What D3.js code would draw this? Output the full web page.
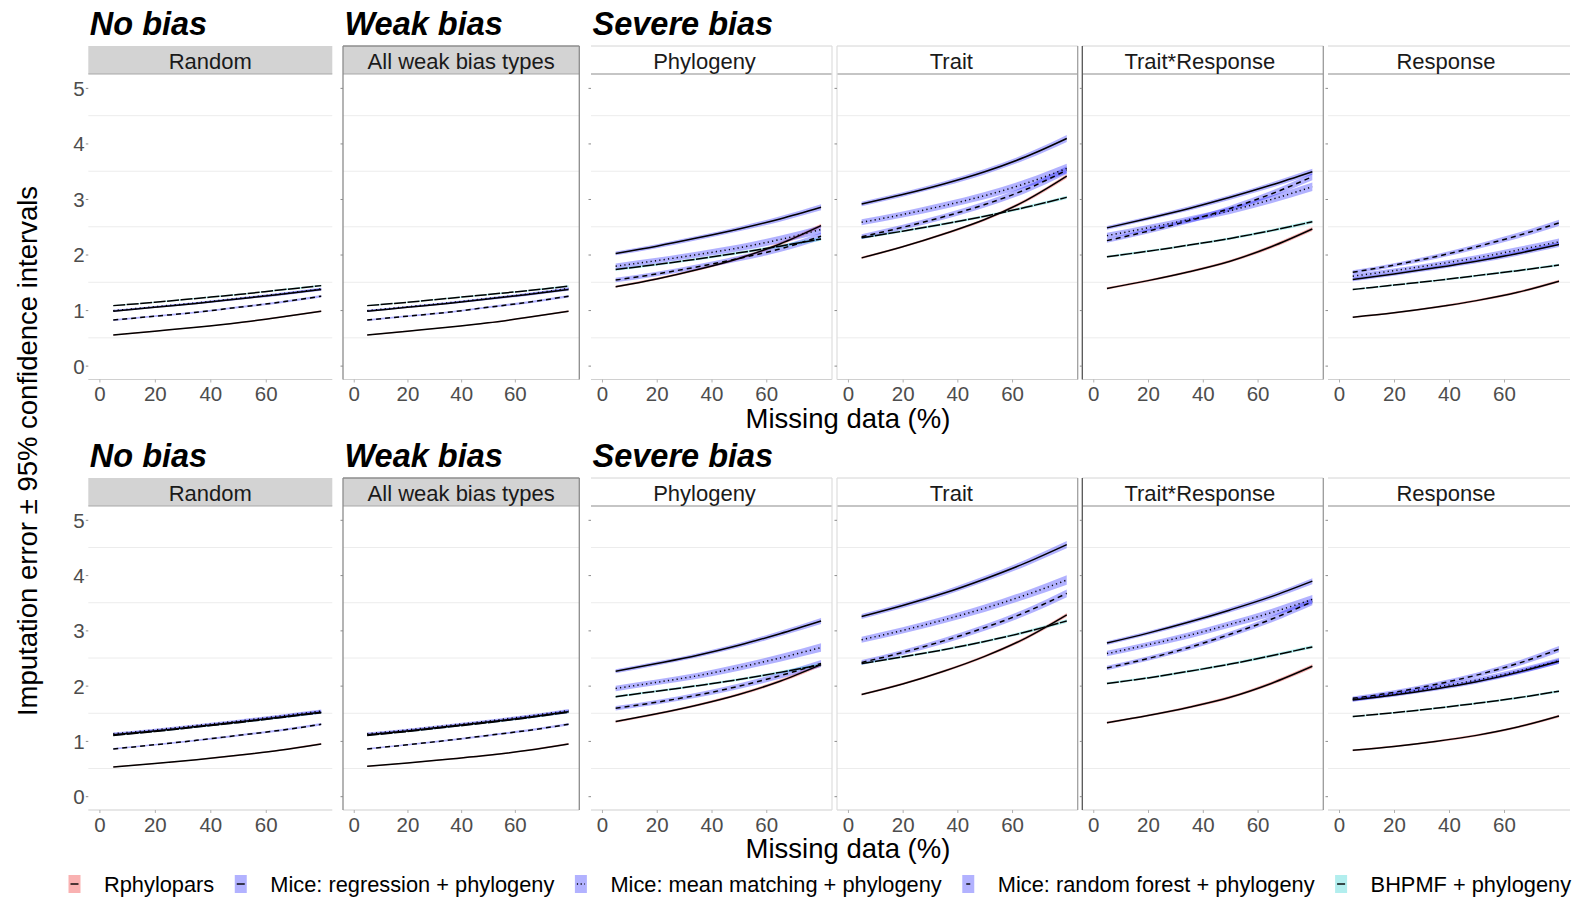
<!DOCTYPE html>
<html>
<head>
<meta charset="utf-8">
<script src="https://d3js.org/d3.v7.min.js"></script>
<style>
  body { margin: 0; background: #fff; }
  svg { display: block; font-family: "Liberation Sans", Arial, sans-serif; }
</style>
</head>
<body>
<svg id="chart" width="1578" height="899"></svg>
<script>
// x positions where the curves were read (missing data, %)
var missing = [5, 20, 35, 50, 65, 80];
var groups = ["No bias", "Weak bias", "Severe bias"];
var panels = ["Random", "All weak bias types", "Phylogeny", "Trait", "Trait*Response", "Response"];
var methods = ["Rphylopars", "Mice: regression + phylogeny", "Mice: mean matching + phylogeny",
               "Mice: random forest + phylogeny", "BHPMF + phylogeny"];
var yTicks = [0, 1, 2, 3, 4, 5];
var yMinor = [0.5, 1.5, 2.5, 3.5, 4.5];
var xTicks = [0, 20, 40, 60];

// mean imputation error, one row per panel: top row panels 1-6, then bottom row panels 1-6
var rphyloparsMean = [
  [0.55, 0.62, 0.69, 0.77, 0.87, 0.98],
  [0.55, 0.62, 0.69, 0.77, 0.87, 0.98],
  [1.42, 1.56, 1.73, 1.93, 2.19, 2.52],
  [1.94, 2.14, 2.37, 2.63, 2.97, 3.41],
  [1.39, 1.53, 1.69, 1.88, 2.14, 2.46],
  [0.87, 0.95, 1.05, 1.17, 1.32, 1.52],
  [0.53, 0.59, 0.66, 0.74, 0.83, 0.945],
  [0.54, 0.60, 0.67, 0.74, 0.83, 0.945],
  [1.35, 1.49, 1.65, 1.84, 2.08, 2.38],
  [1.84, 2.03, 2.26, 2.53, 2.86, 3.28],
  [1.33, 1.46, 1.61, 1.79, 2.04, 2.35],
  [0.83, 0.90, 0.99, 1.10, 1.25, 1.45]
];
var regressionMean = [
  [0.98, 1.05, 1.12, 1.20, 1.28, 1.37],
  [0.98, 1.05, 1.12, 1.20, 1.28, 1.37],
  [2.02, 2.15, 2.30, 2.46, 2.64, 2.85],
  [2.91, 3.08, 3.27, 3.49, 3.76, 4.09],
  [2.48, 2.65, 2.83, 3.03, 3.25, 3.49],
  [1.55, 1.65, 1.76, 1.88, 2.02, 2.18],
  [1.11, 1.18, 1.26, 1.34, 1.43, 1.52],
  [1.11, 1.18, 1.26, 1.34, 1.43, 1.53],
  [2.26, 2.40, 2.55, 2.73, 2.94, 3.17],
  [3.25, 3.45, 3.67, 3.93, 4.22, 4.55],
  [2.77, 2.95, 3.15, 3.37, 3.61, 3.89],
  [1.74, 1.83, 1.94, 2.07, 2.24, 2.44]
];
var meanMatchMean = [
  [0.99, 1.06, 1.13, 1.21, 1.29, 1.38],
  [0.99, 1.06, 1.13, 1.21, 1.29, 1.39],
  [1.79, 1.89, 2.00, 2.12, 2.27, 2.45],
  [2.58, 2.72, 2.88, 3.06, 3.28, 3.55],
  [2.34, 2.48, 2.63, 2.79, 2.99, 3.22],
  [1.61, 1.71, 1.82, 1.94, 2.08, 2.23],
  [1.13, 1.20, 1.28, 1.36, 1.45, 1.54],
  [1.13, 1.20, 1.28, 1.36, 1.45, 1.55],
  [1.95, 2.06, 2.18, 2.33, 2.50, 2.69],
  [2.83, 3.00, 3.19, 3.40, 3.64, 3.91],
  [2.58, 2.74, 2.91, 3.11, 3.32, 3.56],
  [1.75, 1.85, 1.97, 2.10, 2.26, 2.45]
];
var forestMean = [
  [0.82, 0.89, 0.96, 1.05, 1.14, 1.25],
  [0.82, 0.89, 0.96, 1.05, 1.14, 1.25],
  [1.54, 1.65, 1.78, 1.93, 2.10, 2.33],
  [2.32, 2.49, 2.68, 2.90, 3.17, 3.52],
  [2.25, 2.42, 2.61, 2.83, 3.09, 3.40],
  [1.68, 1.81, 1.96, 2.14, 2.34, 2.57],
  [0.855, 0.93, 1.01, 1.10, 1.19, 1.30],
  [0.855, 0.93, 1.01, 1.10, 1.19, 1.30],
  [1.59, 1.70, 1.83, 1.99, 2.18, 2.40],
  [2.42, 2.60, 2.81, 3.05, 3.33, 3.67],
  [2.32, 2.49, 2.69, 2.93, 3.20, 3.52],
  [1.77, 1.88, 2.02, 2.19, 2.40, 2.66]
];
var bhpmfMean = [
  [1.08, 1.14, 1.21, 1.28, 1.36, 1.44],
  [1.08, 1.14, 1.21, 1.28, 1.35, 1.43],
  [1.73, 1.82, 1.92, 2.03, 2.15, 2.28],
  [2.30, 2.42, 2.55, 2.69, 2.85, 3.03],
  [1.96, 2.06, 2.17, 2.29, 2.43, 2.59],
  [1.37, 1.45, 1.53, 1.62, 1.71, 1.81],
  [1.10, 1.17, 1.25, 1.33, 1.42, 1.51],
  [1.10, 1.17, 1.25, 1.33, 1.42, 1.52],
  [1.80, 1.90, 2.00, 2.11, 2.24, 2.38],
  [2.40, 2.52, 2.65, 2.80, 2.97, 3.17],
  [2.04, 2.14, 2.26, 2.39, 2.54, 2.70],
  [1.44, 1.51, 1.59, 1.68, 1.78, 1.90]
];

// half width of the 95% confidence band, same layout as above
var rphyloparsCI = [
  [0.01, 0.01, 0.01, 0.012, 0.014, 0.016],
  [0.01, 0.01, 0.01, 0.012, 0.014, 0.016],
  [0.02, 0.02, 0.022, 0.025, 0.03, 0.035],
  [0.02, 0.02, 0.022, 0.025, 0.03, 0.035],
  [0.02, 0.02, 0.022, 0.025, 0.03, 0.035],
  [0.015, 0.015, 0.017, 0.02, 0.022, 0.025],
  [0.01, 0.01, 0.01, 0.012, 0.014, 0.016],
  [0.01, 0.01, 0.01, 0.012, 0.014, 0.016],
  [0.02, 0.02, 0.022, 0.025, 0.03, 0.035],
  [0.02, 0.02, 0.022, 0.025, 0.03, 0.035],
  [0.02, 0.02, 0.022, 0.025, 0.03, 0.035],
  [0.015, 0.015, 0.017, 0.02, 0.022, 0.025]
];
var regressionCI = [
  [0.015, 0.015, 0.015, 0.018, 0.02, 0.022],
  [0.015, 0.015, 0.015, 0.018, 0.02, 0.022],
  [0.035, 0.035, 0.038, 0.042, 0.048, 0.055],
  [0.04, 0.04, 0.043, 0.048, 0.054, 0.062],
  [0.035, 0.035, 0.038, 0.042, 0.048, 0.055],
  [0.03, 0.03, 0.032, 0.035, 0.04, 0.045],
  [0.02, 0.02, 0.02, 0.022, 0.025, 0.028],
  [0.02, 0.02, 0.02, 0.022, 0.025, 0.028],
  [0.035, 0.035, 0.038, 0.042, 0.048, 0.055],
  [0.045, 0.045, 0.048, 0.052, 0.058, 0.066],
  [0.035, 0.035, 0.038, 0.042, 0.048, 0.055],
  [0.03, 0.03, 0.032, 0.035, 0.04, 0.045]
];
var meanMatchCI = [
  [0.015, 0.015, 0.015, 0.018, 0.02, 0.022],
  [0.015, 0.015, 0.015, 0.018, 0.02, 0.022],
  [0.05, 0.05, 0.055, 0.06, 0.068, 0.078],
  [0.055, 0.055, 0.06, 0.066, 0.074, 0.085],
  [0.05, 0.05, 0.055, 0.06, 0.068, 0.078],
  [0.04, 0.04, 0.043, 0.048, 0.054, 0.06],
  [0.02, 0.02, 0.02, 0.022, 0.025, 0.028],
  [0.02, 0.02, 0.02, 0.022, 0.025, 0.028],
  [0.05, 0.05, 0.055, 0.06, 0.068, 0.078],
  [0.055, 0.055, 0.06, 0.066, 0.074, 0.085],
  [0.05, 0.05, 0.055, 0.06, 0.068, 0.078],
  [0.035, 0.035, 0.038, 0.042, 0.048, 0.055]
];
var forestCI = [
  [0.015, 0.015, 0.016, 0.018, 0.02, 0.022],
  [0.015, 0.015, 0.016, 0.018, 0.02, 0.022],
  [0.04, 0.04, 0.045, 0.05, 0.056, 0.064],
  [0.045, 0.045, 0.05, 0.055, 0.062, 0.07],
  [0.04, 0.04, 0.045, 0.05, 0.056, 0.064],
  [0.035, 0.035, 0.04, 0.045, 0.05, 0.056],
  [0.015, 0.015, 0.016, 0.018, 0.02, 0.022],
  [0.015, 0.015, 0.016, 0.018, 0.02, 0.022],
  [0.04, 0.04, 0.045, 0.05, 0.056, 0.064],
  [0.045, 0.045, 0.05, 0.055, 0.062, 0.07],
  [0.04, 0.04, 0.045, 0.05, 0.056, 0.064],
  [0.035, 0.035, 0.04, 0.045, 0.05, 0.056]
];
var bhpmfCI = [
  [0.01, 0.01, 0.01, 0.012, 0.013, 0.015],
  [0.01, 0.01, 0.01, 0.012, 0.013, 0.015],
  [0.02, 0.02, 0.021, 0.023, 0.026, 0.03],
  [0.02, 0.02, 0.021, 0.023, 0.026, 0.03],
  [0.02, 0.02, 0.021, 0.023, 0.026, 0.03],
  [0.015, 0.015, 0.016, 0.018, 0.02, 0.022],
  [0.01, 0.01, 0.01, 0.012, 0.013, 0.015],
  [0.01, 0.01, 0.01, 0.012, 0.013, 0.015],
  [0.02, 0.02, 0.021, 0.023, 0.026, 0.03],
  [0.02, 0.02, 0.021, 0.023, 0.026, 0.03],
  [0.02, 0.02, 0.021, 0.023, 0.026, 0.03],
  [0.015, 0.015, 0.016, 0.018, 0.02, 0.022]
];

var allMeans = [rphyloparsMean, regressionMean, meanMatchMean, forestMean, bhpmfMean];
var allCIs = [rphyloparsCI, regressionCI, meanMatchCI, forestCI, bhpmfCI];

// styling per method
var fills = ["#f03c3c", "#0000ff", "#0000ff", "#0000ff", "#00c8c8"];
var fillOpacity = [0.4, 0.3, 0.3, 0.3, 0.3];
var dashes = [null, null, "1.2,3.2", "5,4", "12,1.5"];
var keyDashes = [null, null, "1.2,2.5", "4,8", null];

// layout
var panelLeft = [88.3, 343, 591, 837, 1082.3, 1328];
var panelRight = [332.3, 579.3, 832, 1077.7, 1323.3, 1570];
var stripShift = [0, 0, -7, -6, -3, -3];
var groupPanel = [0, 1, 2];
var stripTop = [46, 478];
var plotTop = [74, 506];
var plotBottom = [379.5, 810];

var svg = d3.select("#chart");

[0, 1].forEach(function(ri) {
  // group titles
  groups.forEach(function(g, gi) {
    svg.append("text")
      .attr("x", panelLeft[groupPanel[gi]] + 1.5)
      .attr("y", stripTop[ri] - 11)
      .style("font-size", "32.5px")
      .style("font-weight", "bold")
      .style("font-style", "italic")
      .attr("fill", "#000")
      .text(g);
  });

  panels.forEach(function(p, pi) {
    var k = ri * 6 + pi;
    var L = panelLeft[pi], R = panelRight[pi];
    var x = d3.scaleLinear().domain([-4, 84]).range([L, R]);
    var y = d3.scaleLinear().domain([-0.25, 5.25]).range([plotBottom[ri], plotTop[ri]]);
    var g = svg.append("g");

    // faint minor grid
    g.selectAll(".grid").data(yMinor).enter().append("line")
      .attr("x1", L).attr("x2", R)
      .attr("y1", function(d) { return y(d); })
      .attr("y2", function(d) { return y(d); })
      .attr("stroke", "#ececec").attr("stroke-width", 1);

    // strip
    var grey = pi < 2;
    g.append("rect")
      .attr("x", L).attr("y", stripTop[ri])
      .attr("width", R - L).attr("height", plotTop[ri] - stripTop[ri])
      .attr("fill", grey ? "#d3d3d3" : "#fff");
    if (!grey) {
      g.append("line").attr("x1", L).attr("x2", R)
        .attr("y1", stripTop[ri]).attr("y2", stripTop[ri])
        .attr("stroke", "#d4d4d4");
    }
    g.append("line").attr("x1", L).attr("x2", R)
      .attr("y1", plotTop[ri]).attr("y2", plotTop[ri])
      .attr("stroke", grey ? "#a8a8a8" : "#8c8c8c").attr("stroke-width", 1.2);
    g.append("text")
      .attr("x", (L + R) / 2 + stripShift[pi]).attr("y", plotTop[ri] - 5.5)
      .attr("text-anchor", "middle")
      .style("font-size", "22px")
      .attr("fill", "#1a1a1a")
      .text(p);

    // bottom axis line
    g.append("line").attr("x1", L).attr("x2", R)
      .attr("y1", plotBottom[ri]).attr("y2", plotBottom[ri])
      .attr("stroke", "#d0d0d0").attr("stroke-width", 1.2);

    // panel borders
    function vline(xp, col, w) {
      g.append("line").attr("x1", xp).attr("x2", xp)
        .attr("y1", stripTop[ri]).attr("y2", plotBottom[ri])
        .attr("stroke", col).attr("stroke-width", w);
    }
    if (pi === 1) {
      vline(L, "#8c8c8c", 1.3); vline(R, "#8c8c8c", 1.3);
      g.append("line").attr("x1", L).attr("x2", R)
        .attr("y1", stripTop[ri]).attr("y2", stripTop[ri])
        .attr("stroke", "#8c8c8c").attr("stroke-width", 1.3);
    }
    if (pi === 2) vline(R, "#dedede", 1.2);
    if (pi === 3) { vline(L, "#dedede", 1.2); vline(R, "#a0a0a0", 1.3); }
    if (pi === 4) { vline(L, "#555", 1.3); vline(R, "#9a9a9a", 1.3); }

    // x axis
    var xa = g.append("g")
      .attr("transform", "translate(0," + plotBottom[ri] + ")")
      .call(d3.axisBottom(x).tickValues(xTicks).tickSize(3).tickPadding(4));
    xa.select(".domain").remove();
    xa.selectAll(".tick line").attr("stroke", "#b0b0b0");
    xa.selectAll(".tick text")
      .style("font-size", "20.5px").style("font-family", "'Liberation Sans', Arial, sans-serif")
      .attr("fill", "#4d4d4d");

    // y axis (labels only on first panel)
    var ya = g.append("g")
      .attr("transform", "translate(" + L + ",0)")
      .call(d3.axisLeft(y).tickValues(yTicks).tickFormat(d3.format("d")).tickSize(2.5).tickPadding(1.2));
    ya.select(".domain").remove();
    ya.selectAll(".tick line").attr("stroke", "#8c8c8c");
    ya.selectAll(".tick text")
      .style("font-size", "20.5px").style("font-family", "'Liberation Sans', Arial, sans-serif")
      .attr("fill", "#4d4d4d")
      .attr("dy", "0.36em");
    if (pi !== 0) ya.selectAll(".tick text").remove();

    // ribbons then lines
    var series = allMeans.map(function(M, mi) {
      return missing.map(function(m, j) {
        return { m: m, v: M[k][j], c: allCIs[mi][k][j] };
      });
    });
    var area = d3.area()
      .x(function(d) { return x(d.m); })
      .y0(function(d) { return y(d.v - d.c); })
      .y1(function(d) { return y(d.v + d.c); })
      .curve(d3.curveMonotoneX);
    var line = d3.line()
      .x(function(d) { return x(d.m); })
      .y(function(d) { return y(d.v); })
      .curve(d3.curveMonotoneX);

    g.selectAll(".ribbon").data(series).enter().append("path")
      .attr("d", area)
      .attr("fill", function(d, i) { return fills[i]; })
      .attr("fill-opacity", function(d, i) { return fillOpacity[i]; })
      .attr("stroke", "none");
    g.selectAll(".mline").data(series).enter().append("path")
      .attr("d", line)
      .attr("fill", "none")
      .attr("stroke", "#000")
      .attr("stroke-width", 1.5)
      .attr("stroke-dasharray", function(d, i) { return dashes[i]; });
  });

  // x axis title
  svg.append("text")
    .attr("x", 848).attr("y", plotBottom[ri] + 48)
    .attr("text-anchor", "middle")
    .style("font-size", "27.5px")
    .attr("fill", "#000")
    .text("Missing data (%)");
});

// y axis title
svg.append("text")
  .attr("transform", "translate(37,451) rotate(-90)")
  .attr("text-anchor", "middle")
  .style("font-size", "27.5px")
  .attr("fill", "#000")
  .text("Imputation error \u00b1 95% confidence intervals");

// legend
var lg = svg.append("g");
var lx = 68.5;
methods.forEach(function(name, i) {
  lg.append("rect")
    .attr("x", lx).attr("y", 875).attr("width", 12).attr("height", 18)
    .attr("fill", "#fff");
  lg.append("rect")
    .attr("x", lx).attr("y", 875).attr("width", 12).attr("height", 18)
    .attr("fill", fills[i]).attr("fill-opacity", fillOpacity[i]);
  lg.append("line")
    .attr("x1", lx + 2).attr("x2", lx + 10)
    .attr("y1", 884).attr("y2", 884)
    .attr("stroke", "#000").attr("stroke-width", 1.4)
    .attr("stroke-dasharray", keyDashes[i])
    .attr("stroke-dashoffset", i === 3 ? -2 : 0);
  var t = lg.append("text")
    .attr("x", lx + 35.5).attr("y", 892)
    .style("font-size", "21.8px")
    .attr("fill", "#000")
    .text(name);
  lx = lx + 35.5 + t.node().getComputedTextLength() + 20.5;
});
</script>
</body>
</html>
